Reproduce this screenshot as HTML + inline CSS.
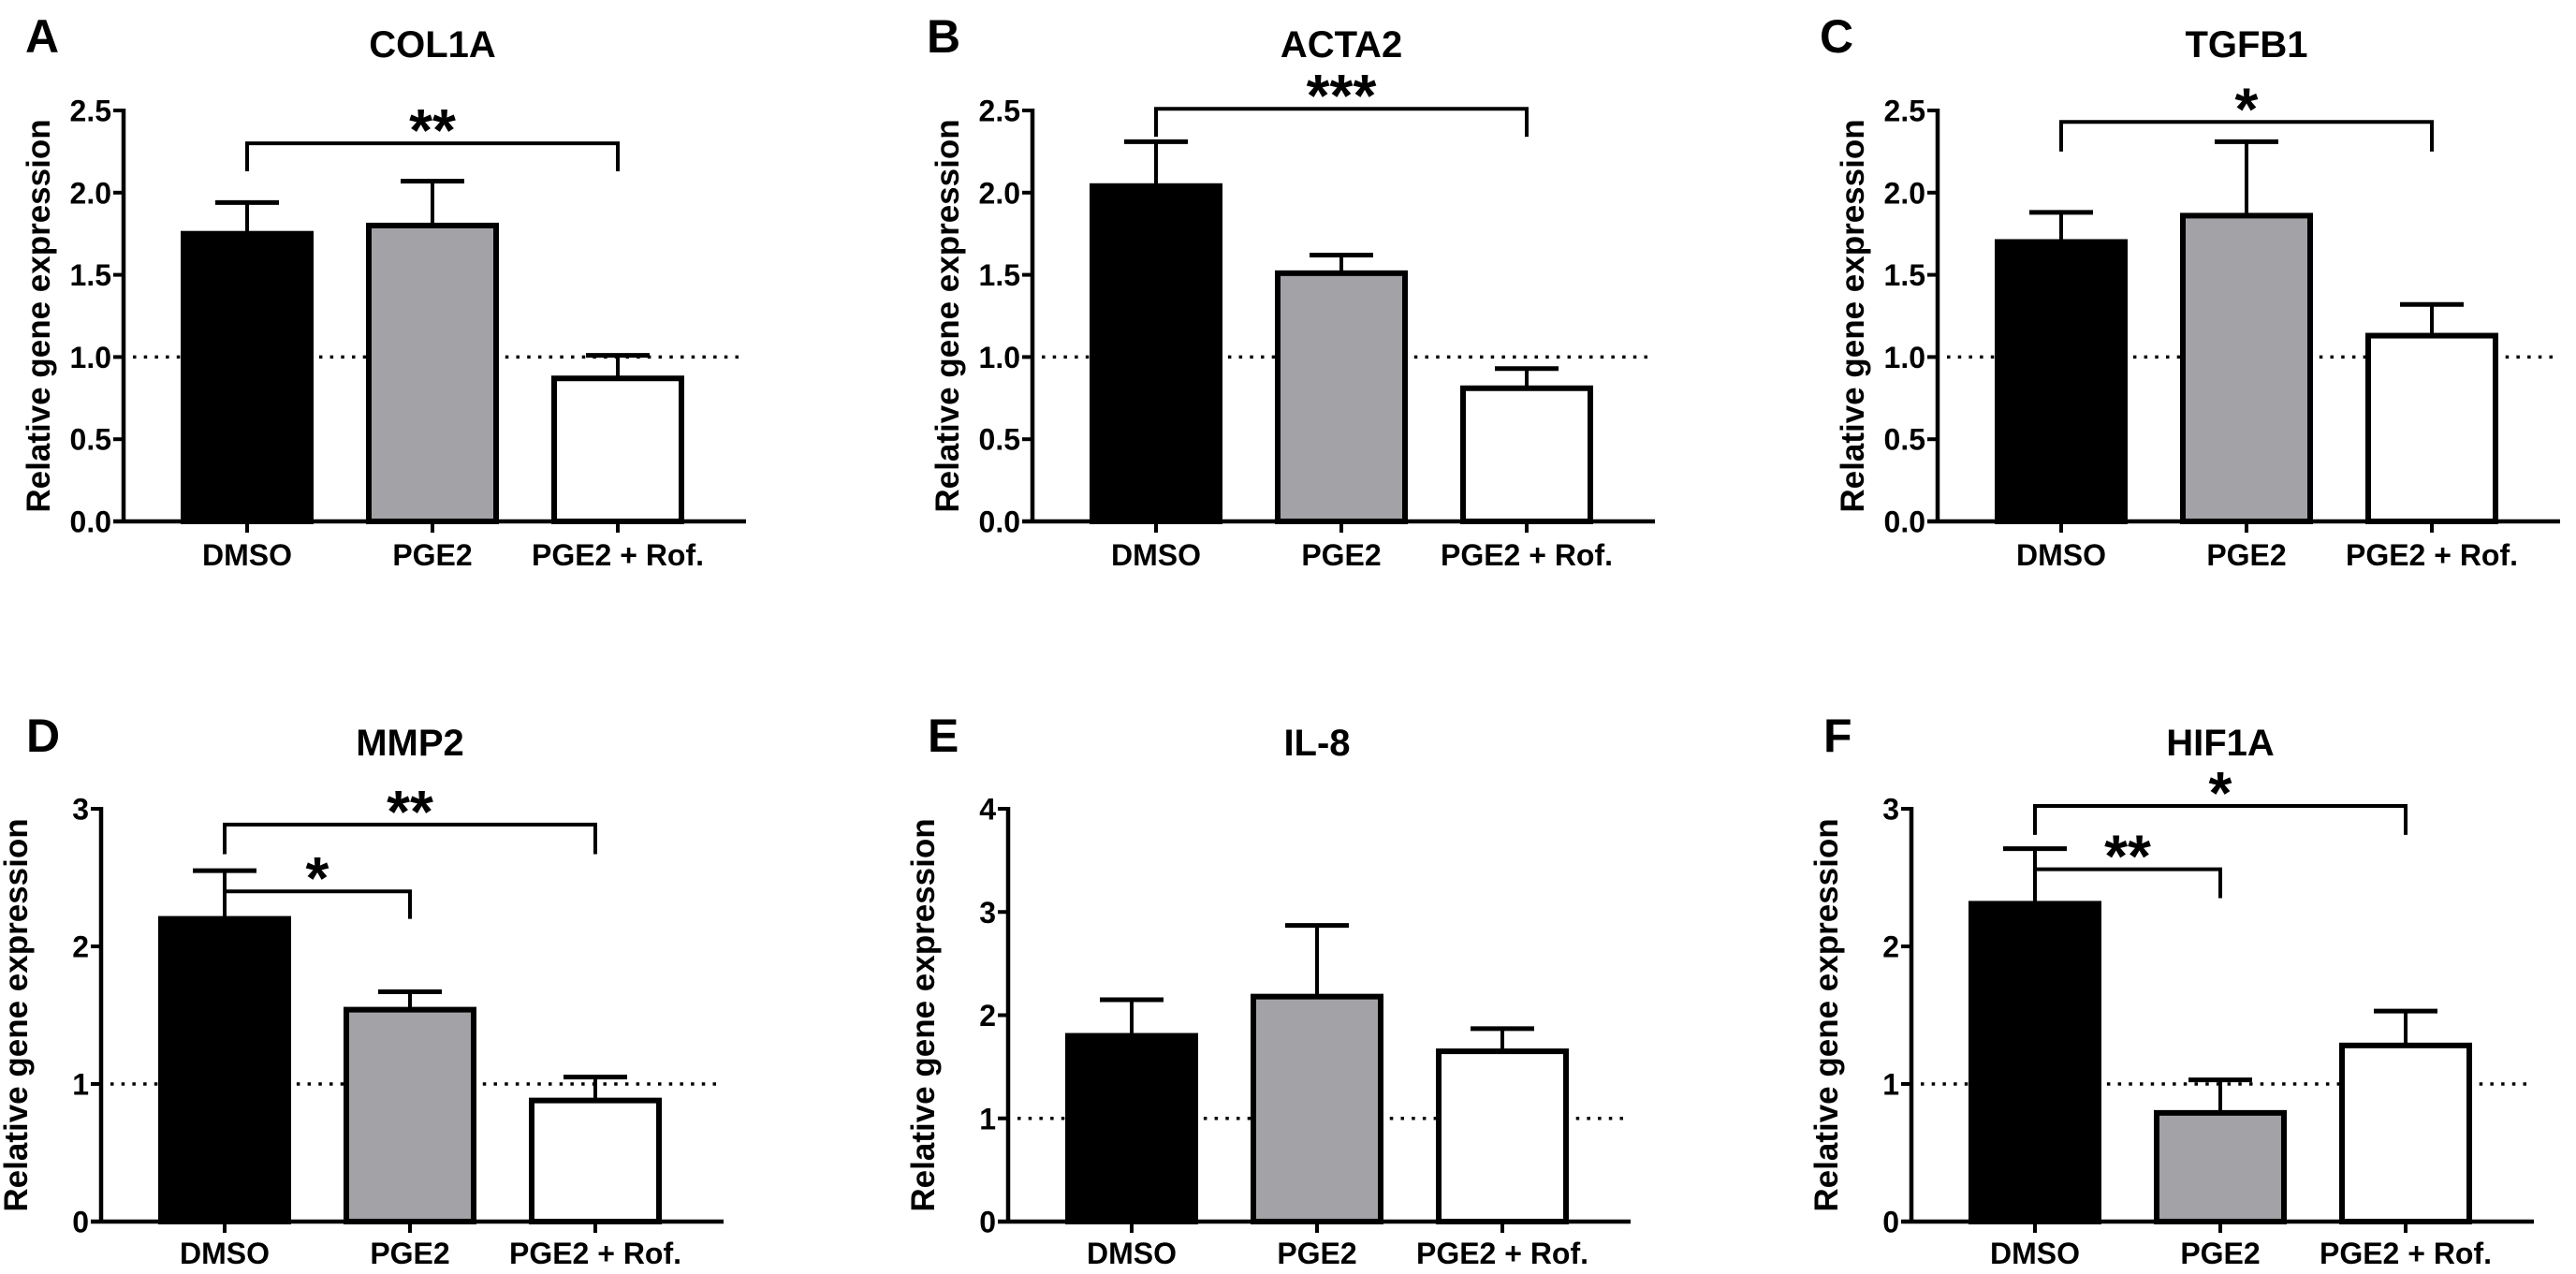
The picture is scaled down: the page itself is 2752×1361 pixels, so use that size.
<!DOCTYPE html>
<html><head><meta charset="utf-8"><style>
html,body{margin:0;padding:0;background:#fff;}
svg{display:block;}
text{font-family:"Liberation Sans",Arial,sans-serif;font-weight:bold;fill:#000;}
</style></head><body>
<svg id="fig" width="2752" height="1361" viewBox="0 0 2752 1361" xmlns="http://www.w3.org/2000/svg"></svg>
<script>
const categories = ["DMSO", "PGE2", "PGE2 + Rof."];
const panelLetters = ["A", "B", "C", "D", "E", "F"];
const panelGenes = ["COL1A", "ACTA2", "TGFB1", "MMP2", "IL-8", "HIF1A"];
const meansCOL1A = [1.75, 1.80, 0.87];
const errsCOL1A = [0.19, 0.27, 0.14];
const meansACTA2 = [2.04, 1.51, 0.81];
const errsACTA2 = [0.27, 0.11, 0.12];
const meansTGFB1 = [1.70, 1.86, 1.13];
const errsTGFB1 = [0.18, 0.45, 0.19];
const meansMMP2 = [2.20, 1.54, 0.88];
const errsMMP2 = [0.35, 0.13, 0.17];
const meansIL8 = [1.80, 2.18, 1.65];
const errsIL8 = [0.35, 0.69, 0.22];
const meansHIF1A = [2.31, 0.79, 1.28];
const errsHIF1A = [0.40, 0.24, 0.25];
const yMaxes = [2.5, 2.5, 2.5, 3, 4, 3];
const ticksTop = ["0.0", "0.5", "1.0", "1.5", "2.0", "2.5"];
const ticksMMP2 = ["0", "1", "2", "3"];
const ticksIL8 = ["0", "1", "2", "3", "4"];
const ticksHIF1A = ["0", "1", "2", "3"];
// significance: [fromIndex, toIndex, bracketValue, legBottomValue, label]
const sigCOL1A = [[0, 2, 2.30, 2.13, "**"]];
const sigACTA2 = [[0, 2, 2.51, 2.34, "***"]];
const sigTGFB1 = [[0, 2, 2.43, 2.25, "*"]];
const sigMMP2 = [[0, 1, 2.40, 2.20, "*"], [0, 2, 2.885, 2.67, "**"]];
const sigIL8 = [];
const sigHIF1A = [[0, 1, 2.56, 2.35, "**"], [0, 2, 3.02, 2.81, "*"]];

const allMeans = [meansCOL1A, meansACTA2, meansTGFB1, meansMMP2, meansIL8, meansHIF1A];
const allErrs = [errsCOL1A, errsACTA2, errsTGFB1, errsMMP2, errsIL8, errsHIF1A];
const allTicks = [ticksTop, ticksTop, ticksTop, ticksMMP2, ticksIL8, ticksHIF1A];
const allSig = [sigCOL1A, sigACTA2, sigTGFB1, sigMMP2, sigIL8, sigHIF1A];

// layout (pixels)
const layout = {
  firstCenter: [264, 1235, 2202, 240, 1209, 2174],
  letterX: [27, 990, 1944, 28, 991, 1948],
  rowY0: [557, 557, 557, 1305, 1305, 1305],
  rowTop: [118, 118, 118, 864, 864, 864],
  titleBase: [61, 61, 61, 807, 807, 807],
  letterBase: [56, 56, 56, 803, 803, 803],
  labelBase: [604, 604, 604, 1350, 1350, 1350],
  spacing: 198, barW: 136
};
const fills = ["#000000", "#a3a3a7", "#ffffff"];
const NS = "http://www.w3.org/2000/svg";
const svg = document.getElementById("fig");
function mk(tag, attrs, parent) {
  const e = document.createElementNS(NS, tag);
  for (const k in attrs) e.setAttribute(k, attrs[k]);
  parent.appendChild(e);
  return e;
}

for (let p = 0; p < 6; p++) {
  const g = mk("g", {}, svg);
  
  
  const c1 = layout.firstCenter[p];
  const axisX = c1 - 132;
  const xEnd = c1 + 2 * layout.spacing + 137;
  const y0 = layout.rowY0[p], yT = layout.rowTop[p];
  const yMax = yMaxes[p];
  const yS = v => y0 - (v / yMax) * (y0 - yT);
  const xS = i => c1 + i * layout.spacing;

  const letter = mk("text", {x: layout.letterX[p], y: layout.letterBase[p], "font-size": 50}, g);
  letter.textContent = panelLetters[p];
  
  

  const title = mk("text", {x: xS(1), y: layout.titleBase[p], "font-size": 40, "text-anchor": "middle"}, g);
  title.textContent = panelGenes[p];
  
  

  const ref = mk("line", {x1: axisX + 10, x2: xEnd, y1: yS(1), y2: yS(1), stroke: "#000", "stroke-width": 3.5, "stroke-dasharray": "3.5 8.2"}, g);
  
  

  const means = allMeans[p], errs = allErrs[p];
  for (let i = 0; i < categories.length; i++) {
    const cx = xS(i);
    const top = yS(means[i]);
    const eTop = yS(means[i] + errs[i]);
    const el = mk("line", {x1: cx, x2: cx, y1: top, y2: eTop, stroke: "#000", "stroke-width": 4}, g);
    
    
    const cap = mk("line", {x1: cx - 34, x2: cx + 34, y1: eTop, y2: eTop, stroke: "#000", "stroke-width": 5}, g);
    
    
    const bar = mk("rect", {x: cx - layout.barW / 2, y: top, width: layout.barW, height: y0 - top, fill: fills[i], stroke: "#000", "stroke-width": 6}, g);
    
    
  }

  const yAxis = mk("line", {x1: axisX, x2: axisX, y1: yT - 2, y2: y0 + 2, stroke: "#000", "stroke-width": 4.5}, g);
  
  
  const xAxis = mk("line", {x1: axisX - 11, x2: xEnd, y1: y0, y2: y0, stroke: "#000", "stroke-width": 4.5}, g);
  
  

  const ticks = allTicks[p];
  for (let t = 0; t < ticks.length; t++) {
    const v = parseFloat(ticks[t]);
    const ty = yS(v);
    const tk = mk("line", {x1: axisX - 11, x2: axisX, y1: ty, y2: ty, stroke: "#000", "stroke-width": 4}, g);
    
    
    const tl = mk("text", {x: axisX - 13, y: ty + 11.5, "font-size": 32, "text-anchor": "end"}, g);
    tl.textContent = ticks[t];
    
    
  }
  for (let i = 0; i < categories.length; i++) {
    const cx = xS(i);
    const tk = mk("line", {x1: cx, x2: cx, y1: y0, y2: y0 + 12, stroke: "#000", "stroke-width": 4}, g);
    
    
    const lb = mk("text", {x: cx, y: layout.labelBase[p], "font-size": 32, "text-anchor": "middle"}, g);
    lb.textContent = categories[i];
    
    
  }

  const yt = mk("text", {x: 0, y: 0, "font-size": 35, "text-anchor": "middle", transform: "translate(" + (axisX - 79) + "," + ((y0 + yT) / 2) + ") rotate(-90)"}, g);
  yt.textContent = "Relative gene expression";
  
  

  const sigs = allSig[p];
  for (let s = 0; s < sigs.length; s++) {
    const [a, b, v, legV, lab] = sigs[s];
    const xa = xS(a), xb = xS(b), by = yS(v), ly = yS(legV);
    const br = mk("path", {d: "M" + xa + "," + ly + "V" + by + "H" + xb + "V" + ly, fill: "none", stroke: "#000", "stroke-width": 4}, g);
    
    
    const st = mk("text", {x: (xa + xb) / 2, y: by + 8, "font-size": 64, "text-anchor": "middle"}, g);
    st.textContent = lab;
    
    
  }
}
</script>
</body></html>
